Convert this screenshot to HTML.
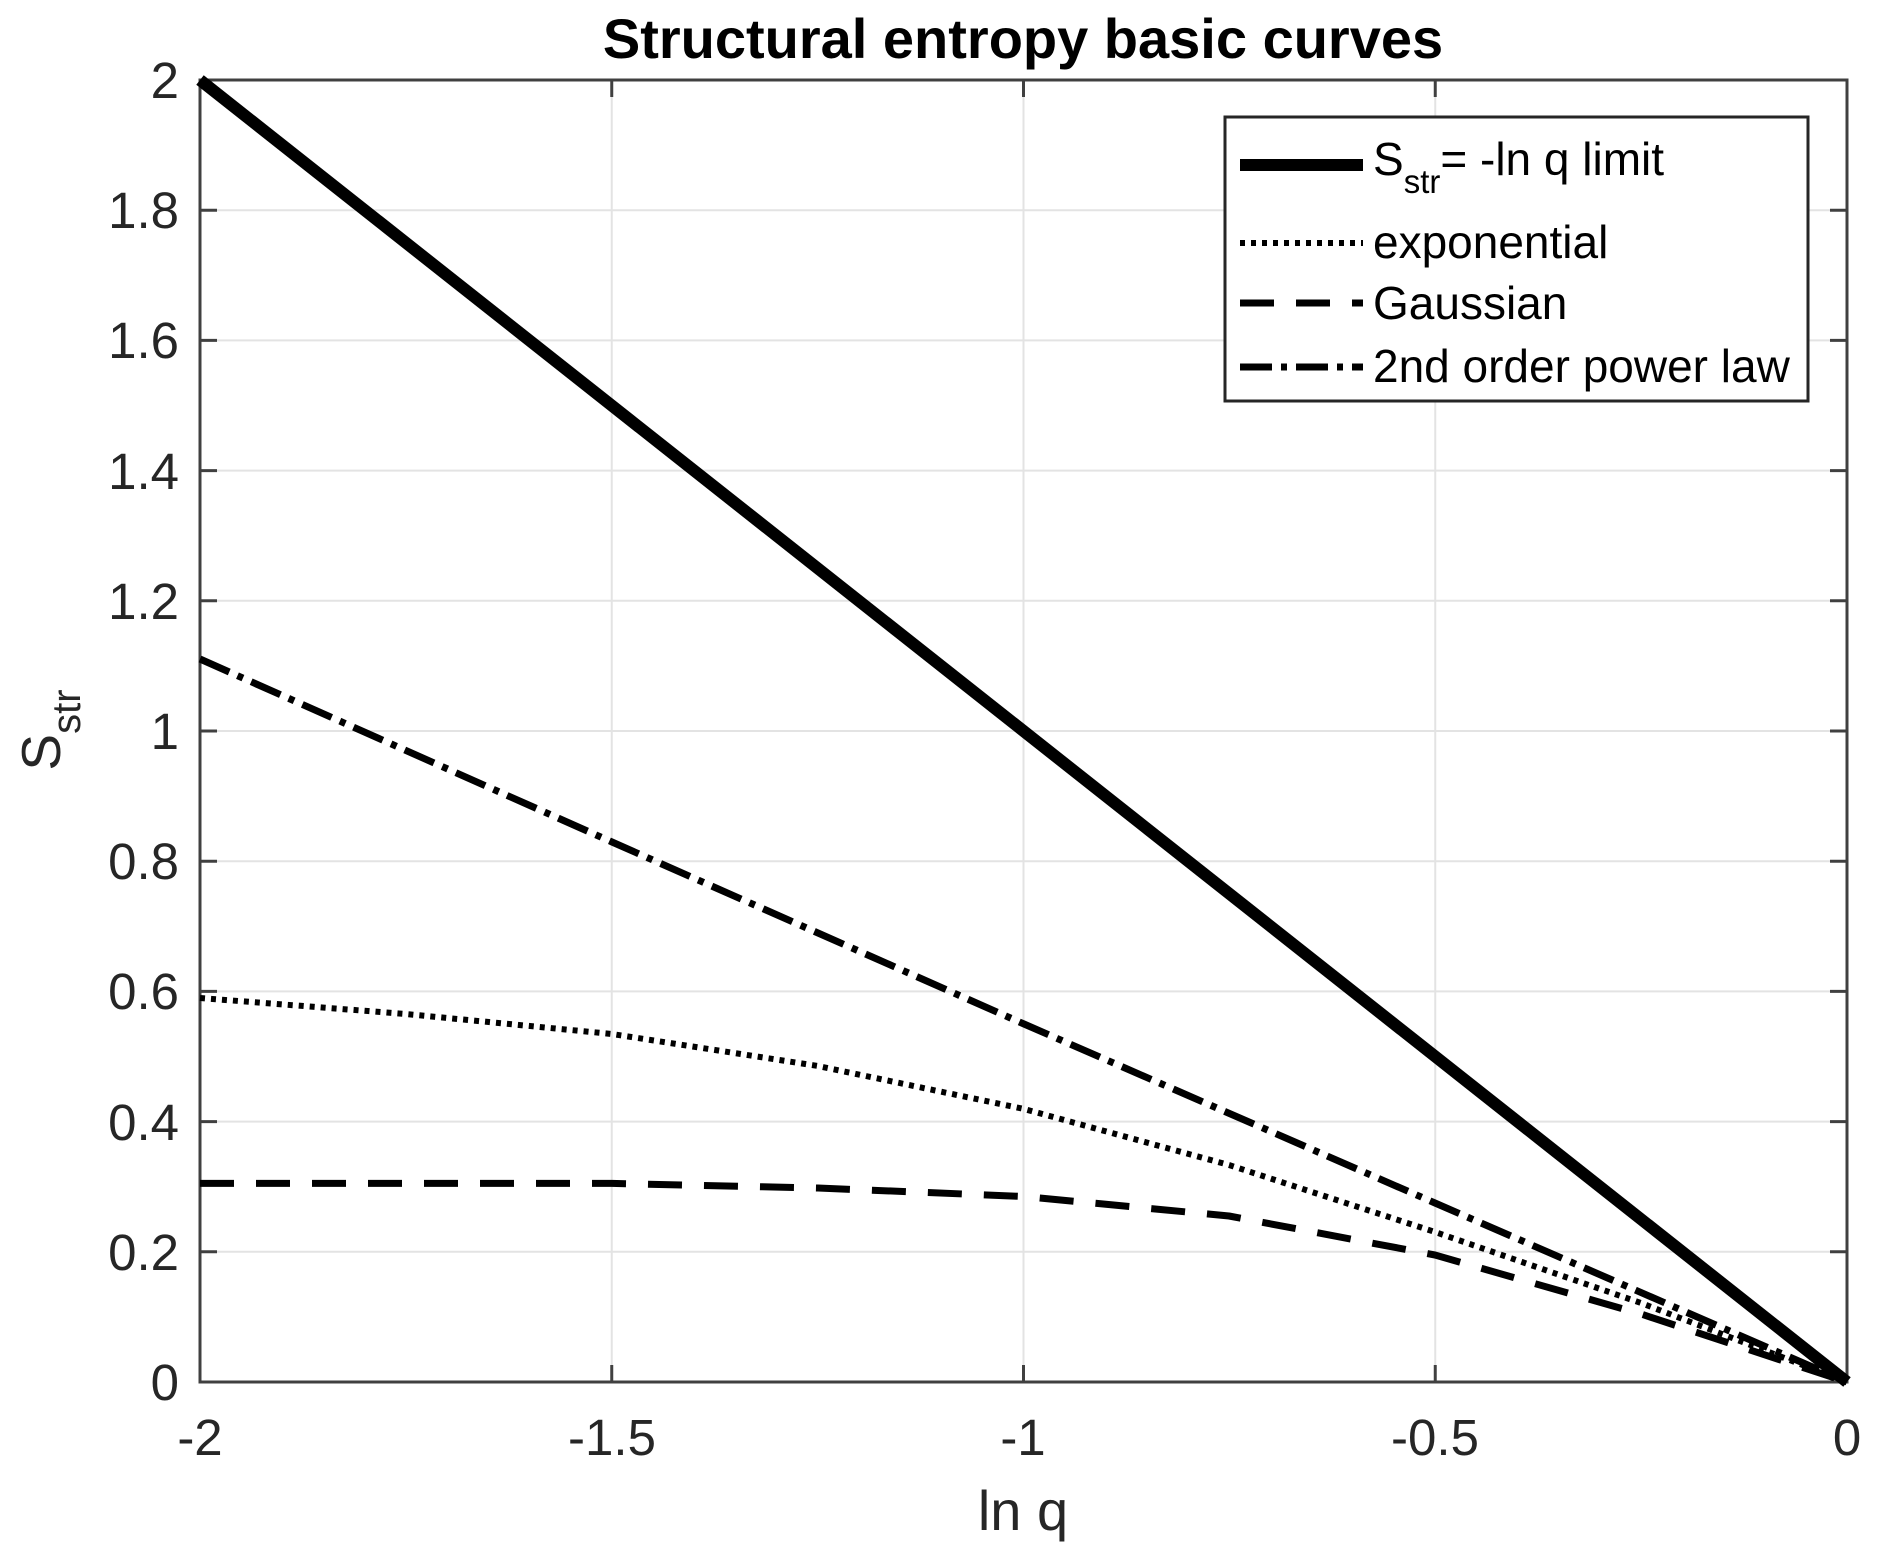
<!DOCTYPE html>
<html><head><meta charset="utf-8"><style>
html,body{margin:0;padding:0;background:#fff;}
svg{display:block;}
text{font-family:"Liberation Sans",sans-serif;fill:#262626;}
</style></head><body>
<svg width="1882" height="1559" viewBox="0 0 1882 1559" xmlns="http://www.w3.org/2000/svg">
<rect width="1882" height="1559" fill="#fff"/>
<g stroke="#e3e3e3" stroke-width="2">
<line x1="611.75" y1="80" x2="611.75" y2="1382"/>
<line x1="1023.5" y1="80" x2="1023.5" y2="1382"/>
<line x1="1435.25" y1="80" x2="1435.25" y2="1382"/>
<line x1="200" y1="1251.8" x2="1847" y2="1251.8"/>
<line x1="200" y1="1121.6" x2="1847" y2="1121.6"/>
<line x1="200" y1="991.4" x2="1847" y2="991.4"/>
<line x1="200" y1="861.2" x2="1847" y2="861.2"/>
<line x1="200" y1="731" x2="1847" y2="731"/>
<line x1="200" y1="600.8" x2="1847" y2="600.8"/>
<line x1="200" y1="470.6" x2="1847" y2="470.6"/>
<line x1="200" y1="340.4" x2="1847" y2="340.4"/>
<line x1="200" y1="210.2" x2="1847" y2="210.2"/>
</g>
<g stroke="#404040" stroke-width="3">
<line x1="611.75" y1="1382" x2="611.75" y2="1365"/><line x1="611.75" y1="80" x2="611.75" y2="97"/>
<line x1="1023.5" y1="1382" x2="1023.5" y2="1365"/><line x1="1023.5" y1="80" x2="1023.5" y2="97"/>
<line x1="1435.25" y1="1382" x2="1435.25" y2="1365"/><line x1="1435.25" y1="80" x2="1435.25" y2="97"/>
<line x1="200" y1="1251.8" x2="217" y2="1251.8"/><line x1="1847" y1="1251.8" x2="1830" y2="1251.8"/>
<line x1="200" y1="1121.6" x2="217" y2="1121.6"/><line x1="1847" y1="1121.6" x2="1830" y2="1121.6"/>
<line x1="200" y1="991.4" x2="217" y2="991.4"/><line x1="1847" y1="991.4" x2="1830" y2="991.4"/>
<line x1="200" y1="861.2" x2="217" y2="861.2"/><line x1="1847" y1="861.2" x2="1830" y2="861.2"/>
<line x1="200" y1="731" x2="217" y2="731"/><line x1="1847" y1="731" x2="1830" y2="731"/>
<line x1="200" y1="600.8" x2="217" y2="600.8"/><line x1="1847" y1="600.8" x2="1830" y2="600.8"/>
<line x1="200" y1="470.6" x2="217" y2="470.6"/><line x1="1847" y1="470.6" x2="1830" y2="470.6"/>
<line x1="200" y1="340.4" x2="217" y2="340.4"/><line x1="1847" y1="340.4" x2="1830" y2="340.4"/>
<line x1="200" y1="210.2" x2="217" y2="210.2"/><line x1="1847" y1="210.2" x2="1830" y2="210.2"/>
<rect x="200" y="80" width="1647" height="1302" fill="none"/>
</g>
<g fill="none" stroke="#000" stroke-linejoin="round">
<polyline stroke-width="7" stroke-dasharray="34 22" points="200,1183.4 612,1183.4 818,1188 1024,1196.5 1229,1216 1435,1255 1641,1314 1847,1382"/>
<polyline stroke-width="6" stroke-dasharray="5 6" points="200,998 406,1014 612,1034 818,1066 1024,1109 1229,1165 1435,1232 1641,1303 1847,1382"/>
<polyline stroke-width="7" stroke-dasharray="32 9 6 9" points="200,659 612,842 1024,1024 1435,1203 1847,1382"/>
<line x1="200" y1="80" x2="1847" y2="1382" stroke-width="12"/>
</g>
<g font-size="51" text-anchor="end">
<text x="179" y="1400">0</text>
<text x="179" y="1270">0.2</text>
<text x="179" y="1140">0.4</text>
<text x="179" y="1009">0.6</text>
<text x="179" y="879">0.8</text>
<text x="179" y="749">1</text>
<text x="179" y="619">1.2</text>
<text x="179" y="489">1.4</text>
<text x="179" y="358">1.6</text>
<text x="179" y="228">1.8</text>
<text x="179" y="98">2</text>
</g>
<g font-size="51" text-anchor="middle">
<text x="200" y="1455">-2</text>
<text x="612" y="1455">-1.5</text>
<text x="1023" y="1455">-1</text>
<text x="1435" y="1455">-0.5</text>
<text x="1847" y="1455">0</text>
</g>
<text x="1023" y="1530" font-size="56" text-anchor="middle">ln q</text>
<text transform="translate(60,730) rotate(-90)" font-size="55" text-anchor="middle">S<tspan font-size="40" dy="20">str</tspan></text>
<text x="1023" y="58" font-size="56" font-weight="bold" text-anchor="middle" style="fill:#000">Structural entropy basic curves</text>
<rect x="1225" y="117" width="583" height="284" fill="#fff" stroke="#262626" stroke-width="3"/>
<g fill="none" stroke="#000">
<line x1="1240" y1="165" x2="1363" y2="165" stroke-width="12"/>
<line x1="1240" y1="243" x2="1363" y2="243" stroke-width="6" stroke-dasharray="5 6"/>
<line x1="1240" y1="303" x2="1363" y2="303" stroke-width="7" stroke-dasharray="34 22"/>
<line x1="1240" y1="367" x2="1363" y2="367" stroke-width="7" stroke-dasharray="32 9 6 9"/>
</g>
<g font-size="46">
<text x="1373" y="175" style="fill:#000">S<tspan font-size="33" dy="18">str</tspan><tspan dy="-18">= -ln q limit</tspan></text>
<text x="1373" y="258" style="fill:#000">exponential</text>
<text x="1373" y="319" style="fill:#000">Gaussian</text>
<text x="1373" y="382" style="fill:#000">2nd order power law</text>
</g>
</svg>
</body></html>
